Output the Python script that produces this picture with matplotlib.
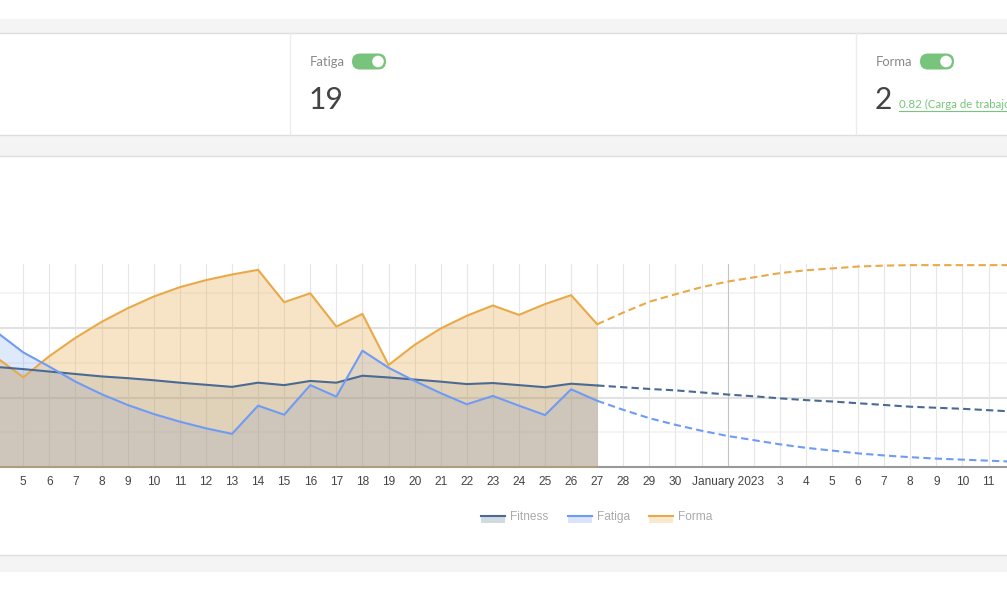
import matplotlib
matplotlib.use('Agg')
import matplotlib.pyplot as plt
from matplotlib.patches import Rectangle, FancyBboxPatch, Circle

W, H = 1007, 590

# day numbers counted from 1 Dec 2022 (32 = 1 January 2023)
days = list(range(4, 28))
fitness = [28.8, 28.2, 27.5, 26.8, 26.1, 25.6, 25.0, 24.3, 23.7, 23.1, 24.3, 23.6,
           24.8, 24.3, 26.3, 25.8, 25.2, 24.6, 23.9, 24.2, 23.6, 23.0, 24.0, 23.5]
fatiga = [38.7, 33.0, 28.9, 24.6, 21.0, 17.9, 15.3, 13.1, 11.2, 9.6, 17.7, 15.1,
          23.6, 20.3, 33.5, 28.6, 24.8, 21.3, 18.1, 20.5, 17.7, 15.0, 22.4, 19.1]
forma = [-5.5, -9.6, -5.1, -1.2, 2.2, 5.1, 7.6, 9.6, 11.1, 12.3, 13.3, 6.4,
         8.3, 1.2, 3.9, -7.0, -2.7, 0.8, 3.5, 5.7, 3.7, 6.0, 7.9, 1.7]

# projection (dashed)
proj_days = list(range(27, 44))
fitness_proj = [23.5, 23.0, 22.5, 22.1, 21.5, 20.9, 20.4, 19.8, 19.3, 18.9, 18.4,
                17.9, 17.4, 17.1, 16.8, 16.4, 16.0]
fatiga_proj = [19.1, 16.5, 14.1, 12.2, 10.5, 9.0, 7.8, 6.6, 5.6, 4.8, 4.0,
               3.4, 2.9, 2.5, 2.2, 1.9, 1.6]
forma_proj = [1.7, 4.2, 6.5, 8.1, 9.6, 10.8, 11.7, 12.6, 13.2, 13.6, 14.0,
              14.2, 14.3, 14.3, 14.3, 14.3, 14.3]

tick_days = list(range(5, 31)) + [32] + list(range(34, 43))
tick_labels = [str(d) for d in range(5, 31)] + ['January 2023'] + [str(d) for d in range(3, 12)]

c_fit = '#4b6a93'
c_fat = '#6f9bf5'
c_form = '#e9a947'
green = '#78c47c'

fig = plt.figure(figsize=(W / 100, H / 100), dpi=100)

# page background (pixel coordinates)
bg = fig.add_axes([0, 0, 1, 1])
bg.set_zorder(-10)
bg.set_xlim(0, W)
bg.set_ylim(H, 0)
bg.axis('off')

for y0, y1 in [(19, 32.5), (134.5, 155.5), (554.5, 571.5)]:
    bg.add_patch(Rectangle((0, y0), W, y1 - y0, color='#f4f4f4', lw=0))
for y in [32.5, 134.5, 155.5, 554.5]:
    bg.plot([0, W], [y, y], color='#dedede', lw=1)
for x in [289.5, 855.5]:
    bg.plot([x, x], [33, 134], color='#ececec', lw=1)

# stat cards
def toggle(x, y):
    bg.add_patch(FancyBboxPatch((x, y), 34, 16, boxstyle='round,pad=0,rounding_size=8',
                                color=green, lw=0))
    bg.add_patch(Circle((x + 26, y + 8), 5.8, color='white', lw=0))

bg.text(310, 66.5, 'Fatiga', family='Lato', fontsize=9.4, color='#888888', va='baseline')
toggle(352, 53.5)
bg.text(309, 109, '19', family='Lato', fontsize=21.6, color='#444444', va='baseline')

bg.text(875.5, 66.5, 'Forma', family='Lato', fontsize=9.4, color='#888888', va='baseline')
toggle(920, 53.5)
bg.text(875, 109, '2', family='Lato', fontsize=21.6, color='#444444', va='baseline')
bg.text(899, 108.5, '0.82 (Carga de trabajo)', family='Lato', fontsize=8.3,
        color=green, va='baseline')
bg.plot([899, W], [110.8, 110.8], color=green, lw=0.8)

# chart: ax = grid + blue areas, ax2 = forma (own scale), ax3 = blue lines
ax = fig.add_axes([0, (H - 467.3) / H, 1, 203 / H])
ax2 = ax.twinx()
ax3 = ax.twinx()
ax.set_zorder(1)
ax2.set_zorder(2)
ax3.set_zorder(3)
ax.patch.set_visible(False)
ax2.patch.set_visible(False)
ax3.patch.set_visible(False)

ax.set_xlim(4.107, 42.708)
ax.set_ylim(0, 58.3)
ax3.set_ylim(0, 58.3)
ax2.set_ylim(-28.8, 14.48)

for y, c, lw in [(10, '#f2f2f2', 1.2), (20, '#e2e2e2', 1.5), (30, '#f2f2f2', 1.2),
                 (40, '#e2e2e2', 1.5), (50, '#f2f2f2', 1.2)]:
    ax.axhline(y, color=c, lw=lw, zorder=0.5)
for d in range(5, 43):
    ax.axvline(d, color='#c4c4c4' if d == 32 else '#e6e6e6', lw=0.8, zorder=0.5)

ax.fill_between(days, fitness, 0, color=c_fit, alpha=0.18, lw=0)
ax.fill_between(days, fatiga, 0, color=c_fat, alpha=0.22, lw=0)

ax2.fill_between(days, forma, -28.8, color='#e6a848', alpha=0.3, lw=0)
ax2.plot(days, forma, color=c_form, lw=1.5)
ax2.plot(proj_days, forma_proj, color=c_form, lw=1.5, dashes=(3.5, 2))

ax3.plot(days, fitness, color=c_fit, lw=1.5)
ax3.plot(days, fatiga, color=c_fat, lw=1.5)
ax3.plot(proj_days, fitness_proj, color=c_fit, lw=1.5, dashes=(3.5, 2))
ax3.plot(proj_days, fatiga_proj, color=c_fat, lw=1.5, dashes=(3.5, 2))

for a in (ax, ax2, ax3):
    for s in ['top', 'left', 'right']:
        a.spines[s].set_visible(False)
    a.set_yticks([])
ax2.spines['bottom'].set_visible(False)
ax3.spines['bottom'].set_visible(False)
ax.spines['bottom'].set_color('#999999')
ax.spines['bottom'].set_linewidth(1.5)

ax.set_xticks(tick_days, tick_labels)
ax.tick_params(axis='x', length=0, pad=6, labelsize=8.6, labelcolor='#444444')
for lab in ax.get_xticklabels():
    lab.set_family('Liberation Sans')

# legend
for x, name, c in [(481, 'Fitness', c_fit), (568, 'Fatiga', c_fat), (649, 'Forma', c_form)]:
    bg.add_patch(Rectangle((x, 516.5), 24, 6, color=c, alpha=0.25, lw=0))
    bg.plot([x, x + 24], [515.8, 515.8], color=c, lw=1.5)
    bg.text(x + 29, 516.7, name, va='center', fontsize=8.6, color='#aaaaaa',
            family='Liberation Sans')

fig.savefig('out.png', dpi=100)
